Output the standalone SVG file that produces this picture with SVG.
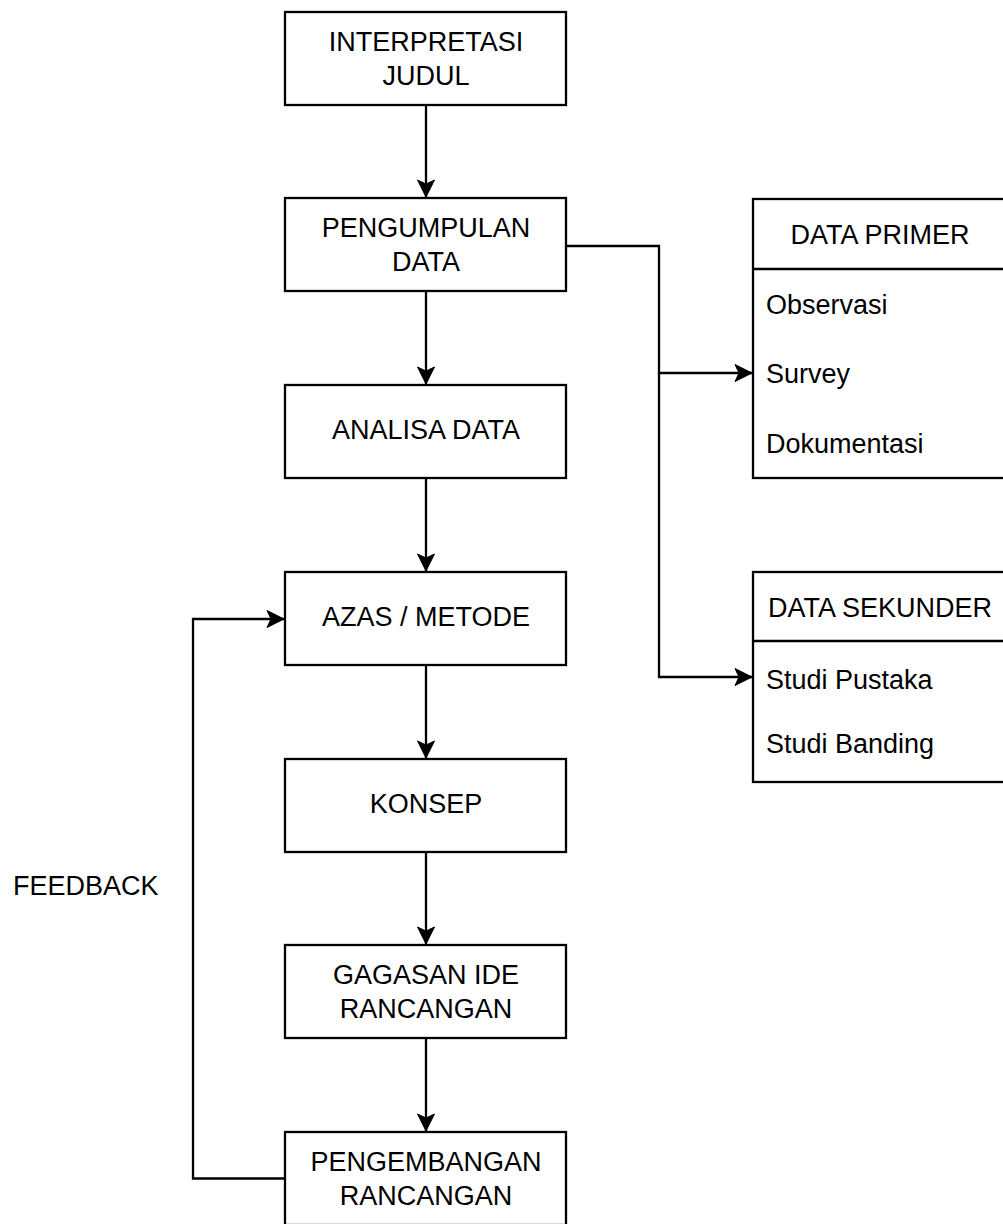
<svg xmlns="http://www.w3.org/2000/svg" width="1003" height="1224" viewBox="0 0 1003 1224">
<style>
.box{fill:#fff;stroke:#000;stroke-width:2.3}
.t{font-family:"Liberation Sans",Arial,Helvetica,sans-serif;font-size:27px;fill:#000}
.c{text-anchor:middle}
.e{fill:none;stroke:#000;stroke-width:2.3}
</style>
<defs>
<marker id="arr" markerUnits="userSpaceOnUse" markerWidth="20" markerHeight="20" viewBox="-18 -10 20 20" refX="0" refY="0" orient="auto">
<path d="M-17,-8.5 L0,0 L-17,8.5 L-13,0 Z" fill="#000" stroke="#000" stroke-width="1"/>
</marker>
</defs>
<rect width="1003" height="1224" fill="#fff"/>
<g id="connectors">
<path class="e" d="M426,105 V197" marker-end="url(#arr)"/>
<path class="e" d="M426,292 V384" marker-end="url(#arr)"/>
<path class="e" d="M426,478 V571" marker-end="url(#arr)"/>
<path class="e" d="M426,665 V758" marker-end="url(#arr)"/>
<path class="e" d="M426,852 V944" marker-end="url(#arr)"/>
<path class="e" d="M426,1038 V1131" marker-end="url(#arr)"/>
<path class="e" d="M566,246 H659 V373 H752" marker-end="url(#arr)"/>
<path class="e" d="M659,373 V677 H752" marker-end="url(#arr)"/>
<path class="e" d="M285,1178.5 H193 V619 H284" marker-end="url(#arr)"/>
</g>
<g id="n1"><rect class="box" x="285" y="12" width="281" height="93"/><text class="t c" x="426" y="51">INTERPRETASI</text><text class="t c" x="426" y="85">JUDUL</text></g>
<g id="n2"><rect class="box" x="285" y="198" width="281" height="93"/><text class="t c" x="426" y="237">PENGUMPULAN</text><text class="t c" x="426" y="271">DATA</text></g>
<g id="n3"><rect class="box" x="285" y="385" width="281" height="93"/><text class="t c" x="426" y="438.5">ANALISA DATA</text></g>
<g id="n4"><rect class="box" x="285" y="572" width="281" height="93"/><text class="t c" x="426" y="625.5">AZAS / METODE</text></g>
<g id="n5"><rect class="box" x="285" y="759" width="281" height="93"/><text class="t c" x="426" y="812.5">KONSEP</text></g>
<g id="n6"><rect class="box" x="285" y="945" width="281" height="93"/><text class="t c" x="426" y="984">GAGASAN IDE</text><text class="t c" x="426" y="1018">RANCANGAN</text></g>
<g id="n7"><rect class="box" x="285" y="1132" width="281" height="93"/><text class="t c" x="426" y="1171">PENGEMBANGAN</text><text class="t c" x="426" y="1205">RANCANGAN</text></g>
<g id="primer">
<rect class="box" x="753" y="199" width="253" height="279"/>
<line class="e" x1="753" y1="269" x2="1006" y2="269"/>
<text class="t c" x="880" y="244">DATA PRIMER</text>
<text class="t" x="766" y="314">Observasi</text>
<text class="t" x="766" y="383">Survey</text>
<text class="t" x="766" y="453">Dokumentasi</text>
</g>
<g id="sekunder">
<rect class="box" x="753" y="572" width="253" height="210"/>
<line class="e" x1="753" y1="641" x2="1006" y2="641"/>
<text class="t c" x="880" y="617">DATA SEKUNDER</text>
<text class="t" x="766" y="689">Studi Pustaka</text>
<text class="t" x="766" y="753">Studi Banding</text>
</g>
<g id="feedback"><text class="t" x="13" y="895">FEEDBACK</text></g>
</svg>
